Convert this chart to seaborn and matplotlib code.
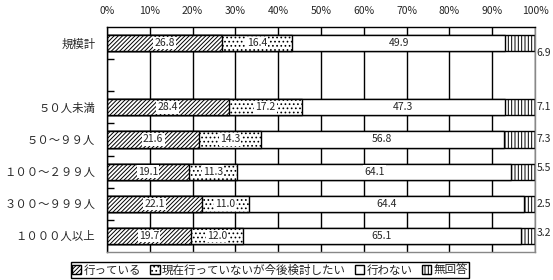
import numpy as np
import pandas as pd
import matplotlib
matplotlib.use("Agg")
import matplotlib.pyplot as plt
import seaborn as sns
from matplotlib.patches import Patch

categories = ["規模計", "５０人未満", "５０～９９人", "１００～２９９人", "３００～９９９人", "１０００人以上"]
doing = [26.8, 28.4, 21.6, 19.1, 22.1, 19.7]
considering = [16.4, 17.2, 14.3, 11.3, 11.0, 12.0]
not_doing = [49.9, 47.3, 56.8, 64.1, 64.4, 65.1]
no_answer = [6.9, 7.1, 7.3, 5.5, 2.5, 3.2]
series_names = ["行っている", "現在行っていないが今後検討したい", "行わない", "無回答"]
xtick_values = [0, 10, 20, 30, 40, 50, 60, 70, 80, 90, 100]
xtick_labels = ["0%", "10%", "20%", "30%", "40%", "50%", "60%", "70%", "80%", "90%", "100%"]

sns.set_theme(style="white")
plt.rcParams['font.family'] = ['Noto Sans CJK JP', 'DejaVu Sans']
plt.rcParams['hatch.linewidth'] = 0.7
plt.rcParams['hatch.color'] = 'black'

W, H = 553, 280
fig = plt.figure(figsize=(W / 100, H / 100), dpi=100)
ax = fig.add_axes([107 / W, 1 - 252 / H, 428 / W, 225 / H])

order = [categories[0], " "] + categories[1:]
series = [doing, considering, not_doing, no_answer]
cum = np.cumsum(np.array(series), axis=0)
hatches = ["////////", "....", "", "|||||"]

for i in reversed(range(4)):
    df = pd.DataFrame({"cat": categories, "val": cum[i]})
    sns.barplot(data=df, x="val", y="cat", order=order, orient="h",
                color="white", saturation=1, edgecolor="black", linewidth=1,
                hatch=hatches[i], width=0.5, errorbar=None, ax=ax, zorder=2)

ax.set_xlim(0, 100)
ax.set_ylim(6.5, -0.5)
ax.set_xlabel("")
ax.set_ylabel("")

ax.set_xticks(xtick_values)
ax.set_xticklabels(xtick_labels, fontsize=7.5)
ax.xaxis.tick_top()
ax.tick_params(axis="x", length=0, pad=8)
ax.grid(axis="x", color="black", lw=1)
ax.grid(axis="y", visible=False)
ax.set_axisbelow(True)

ax.tick_params(axis="y", which="major", length=0, pad=8.5, labelsize=8.2)
ax.set_yticks([0.5, 1.5, 2.5, 3.5, 4.5, 5.5], minor=True)
ax.tick_params(axis="y", which="minor", direction="in", length=5, width=1, color="black", left=True)

for s in ["top", "left"]:
    ax.spines[s].set_color("black")
    ax.spines[s].set_linewidth(1)
for s in ["right", "bottom"]:
    ax.spines[s].set_color("#888888")
    ax.spines[s].set_linewidth(1)

positions = [0, 2, 3, 4, 5, 6]
na_offsets = [0.3, 0, 0, -0.1, 0, -0.1]
for r, pos in enumerate(positions):
    left = 0
    for i in range(3):
        v = series[i][r]
        ax.text(left + v / 2, pos, f"{v:.1f}", ha="center", va="center", fontsize=7.5,
                zorder=5, bbox=dict(facecolor="white", edgecolor="none", pad=0.8))
        left += v
    ax.text(100.4, pos + na_offsets[r], f"{series[3][r]:.1f}", ha="left", va="center",
            fontsize=7.5, zorder=5, clip_on=False)

handles = [Patch(facecolor="white", edgecolor="black", hatch=h, label=n)
           for h, n in zip(hatches, series_names)]
leg = fig.legend(handles=handles, loc="center", bbox_to_anchor=(270 / W, 1 - 270 / H),
                 ncol=4, frameon=True, fancybox=False, edgecolor="black", fontsize=8.3,
                 handlelength=0.8, handleheight=0.7, handletextpad=0.2,
                 columnspacing=0.8, borderpad=0.1, borderaxespad=0)
leg.get_frame().set_linewidth(1)
leg.get_frame().set_alpha(1)

fig.savefig("out.png", dpi=100)
